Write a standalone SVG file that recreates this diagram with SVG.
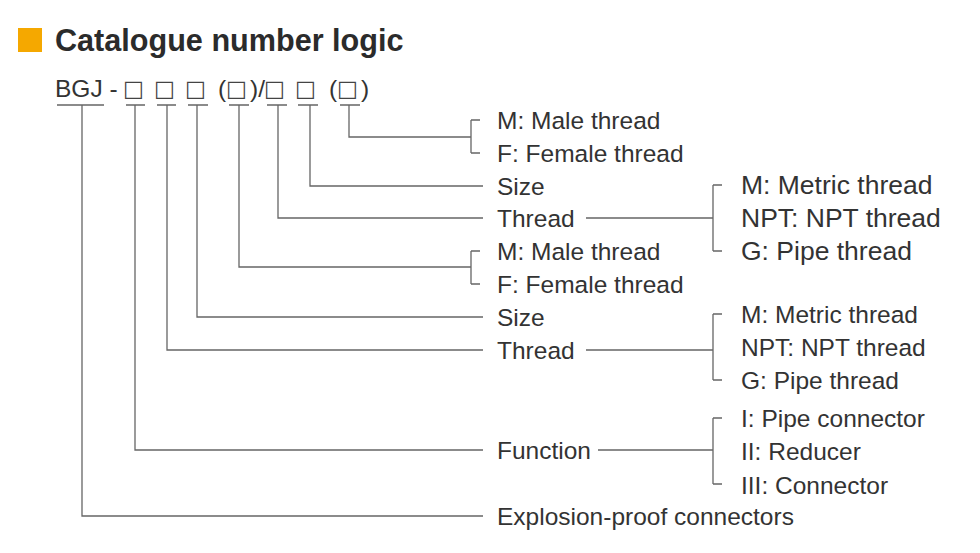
<svg xmlns="http://www.w3.org/2000/svg" width="980" height="553" viewBox="0 0 980 553">
<style>
text{font-family:"Liberation Sans",Arial,sans-serif;fill:#333;font-size:24.5px;dominant-baseline:central}
.t{font-weight:bold;font-size:30.6px;fill:#2b2b2b}
.b{font-family:"DejaVu Sans",sans-serif;font-size:22px;fill:#444}
.u{font-size:26.5px}
#connectors path{fill:none;stroke:#666;stroke-width:1.3}
</style>
<rect width="980" height="553" fill="#fff"/>
<g id="title"><rect x="18" y="28" width="24" height="24" fill="#f5a800"/><text class="t" x="55" y="40">Catalogue number logic</text></g>
<g id="code"><text x="55" y="88" font-size="22">BGJ -</text>
<text class="b" x="123" y="88">□</text><text class="b" x="154" y="88">□</text><text class="b" x="185" y="88">□</text>
<text x="218" y="88" font-size="22">(</text><text class="b" x="226" y="88">□</text><text x="250" y="88" font-size="22">)/</text>
<text class="b" x="264" y="88">□</text><text class="b" x="295" y="88">□</text>
<text x="329" y="88" font-size="22">(</text><text class="b" x="337" y="88">□</text><text x="361" y="88" font-size="22">)</text></g>
<g id="connectors">
<path d="M57 105H104M126 105H145M157 105H176M188 105H208M229 105H249M267 105H287M298 105H318M340 105H360"/>
<path d="M349 105V137H471M471 120V153M471 120H480M471 153H480"/>
<path d="M310 105V186H483"/>
<path d="M278 105V218H483M586 218H713M713 185V251M713 185H722M713 251H722"/>
<path d="M239 105V267H471M471 251V284M471 251H480M471 284H480"/>
<path d="M197 105V317H483"/>
<path d="M167 105V350H483M586 350H713M713 314V380M713 314H722M713 380H722"/>
<path d="M135 105V450H483M598 450H713M713 418V484M713 418H722M713 484H722"/>
<path d="M82 105V516H483"/>
</g>
<g id="n1"><text x="497" y="120">M: Male thread</text><text x="497" y="153">F: Female thread</text></g>
<g id="n2"><text x="497" y="186">Size</text></g>
<g id="n3"><text x="497" y="218">Thread</text><text class="u" x="741" y="185">M: Metric thread</text><text class="u" x="741" y="218">NPT: NPT thread</text><text class="u" x="741" y="251">G: Pipe thread</text></g>
<g id="n4"><text x="497" y="251">M: Male thread</text><text x="497" y="284">F: Female thread</text></g>
<g id="n5"><text x="497" y="317">Size</text></g>
<g id="n6"><text x="497" y="350">Thread</text><text x="741" y="314" font-size="23">M: Metric thread</text><text x="741" y="347" font-size="23">NPT: NPT thread</text><text x="741" y="380" font-size="23">G: Pipe thread</text></g>
<g id="n7"><text x="497" y="450">Function</text><text x="741" y="418" font-size="23">I: Pipe connector</text><text x="741" y="451" font-size="23">II: Reducer</text><text x="741" y="485" font-size="23">III: Connector</text></g>
<g id="n8"><text x="497" y="516" font-size="23">Explosion-proof connectors</text></g>
</svg>
